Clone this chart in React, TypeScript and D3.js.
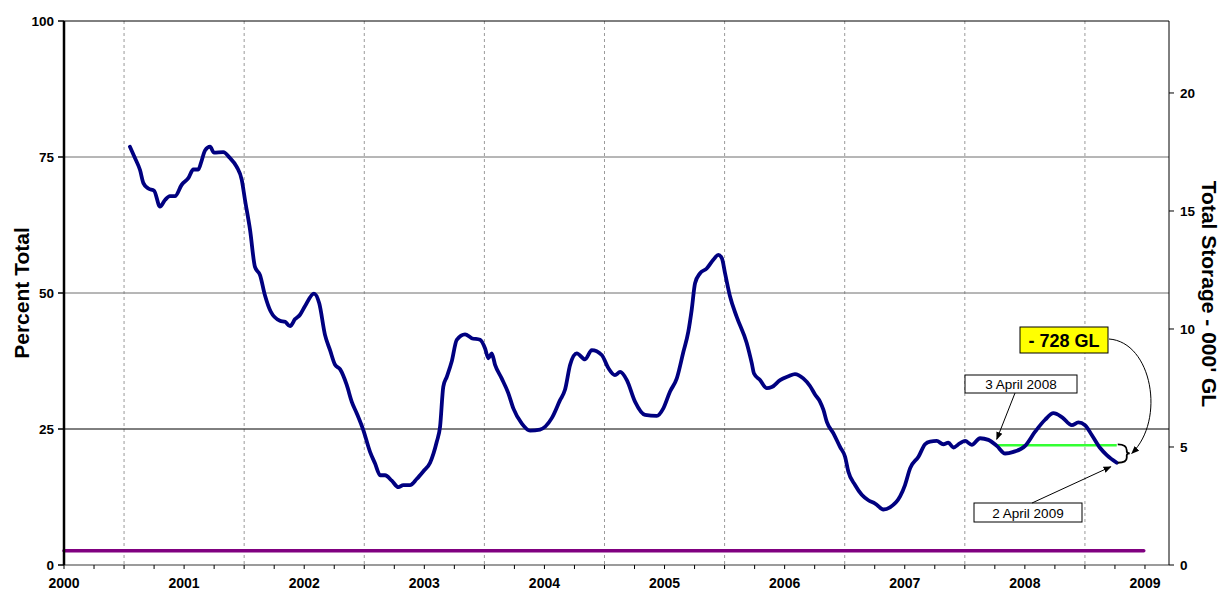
import React from "react";
import * as d3 from "d3";

// ---- data ----
const yearTicks = [2000, 2001, 2002, 2003, 2004, 2005, 2006, 2007, 2008, 2009];
const leftTicks = [0, 25, 50, 75, 100];
const rightTicks = [0, 5, 10, 15, 20];
const rightMax = 23.05; // '000 GL at 100 %

// storage time series: axis-year position and percent of total
const storageYear = [
  2000.549, 2000.591, 2000.633, 2000.661, 2000.702, 2000.75, 2000.799, 2000.841, 2000.882, 2000.924,
  2000.98, 2001.035, 2001.077, 2001.118, 2001.147, 2001.174, 2001.216, 2001.249, 2001.326, 2001.382,
  2001.438, 2001.48, 2001.507, 2001.549, 2001.59, 2001.632, 2001.673, 2001.721, 2001.798, 2001.841,
  2001.882, 2001.924, 2001.965, 2002.007, 2002.081, 2002.125, 2002.173, 2002.215, 2002.257, 2002.298,
  2002.354, 2002.396, 2002.437, 2002.492, 2002.548, 2002.589, 2002.632, 2002.673, 2002.729, 2002.784,
  2002.825, 2002.881, 2002.936, 2002.991, 2003.048, 2003.104, 2003.131, 2003.158, 2003.187, 2003.228,
  2003.27, 2003.339, 2003.394, 2003.464, 2003.506, 2003.533, 2003.561, 2003.589, 2003.644, 2003.699,
  2003.741, 2003.812, 2003.88, 2003.963, 2004.061, 2004.13, 2004.171, 2004.214, 2004.269, 2004.338,
  2004.394, 2004.477, 2004.532, 2004.587, 2004.63, 2004.686, 2004.755, 2004.838, 2004.935, 2004.99,
  2005.046, 2005.102, 2005.157, 2005.198, 2005.226, 2005.254, 2005.295, 2005.351, 2005.406, 2005.448,
  2005.477, 2005.504, 2005.546, 2005.601, 2005.684, 2005.726, 2005.745, 2005.795, 2005.851, 2005.893,
  2005.962, 2006.031, 2006.086, 2006.155, 2006.211, 2006.254, 2006.295, 2006.323, 2006.351, 2006.406,
  2006.461, 2006.503, 2006.53, 2006.586, 2006.642, 2006.697, 2006.753, 2006.822, 2006.877, 2006.961,
  2007.002, 2007.045, 2007.114, 2007.169, 2007.211, 2007.266, 2007.321, 2007.363, 2007.404, 2007.461,
  2007.502, 2007.558, 2007.627, 2007.696, 2007.766, 2007.836, 2007.905, 2008.002, 2008.085, 2008.168,
  2008.238, 2008.308, 2008.391, 2008.445, 2008.501, 2008.557, 2008.627, 2008.682, 2008.765,
];
const storagePct = [
  76.9, 74.8, 72.6, 70.2, 69.2, 68.8, 65.9, 67.1, 67.8, 67.8,
  69.9, 71.1, 72.7, 72.7, 74.4, 76.2, 76.9, 75.8, 75.9, 74.8,
  73.2, 70.8, 67.1, 61.6, 54.8, 53.3, 49.6, 46.6, 44.9, 44.7,
  43.9, 45.2, 46.0, 47.6, 49.9, 48.1, 42.3, 39.5, 36.8, 36.0,
  33.1, 30.0, 27.9, 24.8, 20.8, 18.7, 16.5, 16.5, 15.5, 14.3,
  14.7, 14.7, 15.8, 17.2, 18.8, 22.7, 25.4, 32.8, 34.6, 37.4,
  41.4, 42.4, 41.7, 41.4, 39.8, 38.0, 38.9, 36.8, 34.3, 31.6,
  28.8, 26.0, 24.7, 24.9, 27.0, 30.3, 32.2, 36.8, 38.9, 37.8,
  39.5, 38.6, 36.2, 34.9, 35.5, 34.0, 30.0, 27.6, 27.4, 28.8,
  31.9, 34.3, 39.2, 42.9, 46.9, 51.8, 53.6, 54.5, 56.1, 57.0,
  56.4, 53.6, 49.3, 45.6, 40.8, 37.1, 35.2, 34.0, 32.5, 32.7,
  34.0, 34.7, 35.1, 34.3, 32.9, 31.3, 30.0, 28.5, 26.3, 24.2,
  21.7, 19.9, 17.2, 14.7, 12.9, 11.9, 11.3, 10.2, 10.6, 12.6,
  14.7, 17.8, 19.9, 22.2, 22.7, 22.8, 22.2, 22.5, 21.6, 22.4,
  22.8, 22.1, 23.3, 23.0, 21.9, 20.5, 20.8, 21.9, 24.5, 26.7,
  27.9, 27.2, 25.7, 26.2, 25.7, 23.9, 21.5, 20.2, 18.8,
];

// reference level (3 April 2008) carried forward to 2 April 2009
const refLevelYears = [2007.766, 2008.765];
const refLevelPct = [22.0, 22.0];

// constant purple line
const minLevelYears = [2000, 2008.99];
const minLevelPct = [2.6, 2.6];

const FONT = "'Liberation Sans', Arial, Helvetica, sans-serif";

export default function App() {
  const W = 1222;
  const H = 592;
  const left = 64;
  const right = 1169;
  const top = 21;
  const bottom = 565;

  const x = d3.scaleLinear().domain([2000, 2009.2]).range([left, right]);
  const y = d3.scaleLinear().domain([0, 100]).range([bottom, top]);
  const yR = d3.scaleLinear().domain([0, rightMax]).range([bottom, top]);

  const series = storageYear.map((t, i) => [t, storagePct[i]] as [number, number]);
  const line = d3
    .line<[number, number]>()
    .x((d) => x(d[0]))
    .y((d) => y(d[1]))
    .curve(d3.curveMonotoneX);

  const quarterTicks = d3.range(0, 9 * 4 + 1).map((i) => 2000 + i / 4);
  const midYears = yearTicks.slice(0, -1).map((yy) => yy + 0.5);

  const lastX = x(storageYear[storageYear.length - 1]);
  const lastY = y(storagePct[storagePct.length - 1]);
  const greenStartX = x(refLevelYears[0]);
  const greenY = y(refLevelPct[0]);
  const greenEndX = x(refLevelYears[1]);

  return (
    <svg
      width={W}
      height={H}
      style={{ position: "absolute", left: 0, top: 0, background: "#fff" }}
      fontFamily={FONT}
    >
      <defs>
        <marker
          id="ah"
          viewBox="0 0 10 10"
          refX="9"
          refY="5"
          markerWidth="8"
          markerHeight="8"
          markerUnits="userSpaceOnUse"
          orient="auto"
        >
          <path d="M0,1 L10,5 L0,9 z" fill="#000" />
        </marker>
      </defs>
      <rect x={0} y={0} width={W} height={H} fill="#fff" />

      {/* dashed vertical gridlines at mid year */}
      {midYears.map((m) => (
        <line
          key={"v" + m}
          x1={x(m)}
          x2={x(m)}
          y1={top}
          y2={bottom}
          stroke="#9a9a9a"
          strokeWidth={1}
          strokeDasharray="3,3"
        />
      ))}

      {/* horizontal gridlines */}
      {leftTicks
        .filter((t) => t > 0 && t < 100)
        .map((t) => (
          <line
            key={"h" + t}
            x1={left}
            x2={right}
            y1={y(t)}
            y2={y(t)}
            stroke={t === 25 ? "#000" : "#6e6e6e"}
            strokeWidth={1}
          />
        ))}
      <line x1={left} x2={right} y1={top} y2={top} stroke="#000" strokeWidth={1} />

      {/* purple constant line */}
      <line
        x1={x(minLevelYears[0])}
        x2={x(minLevelYears[1])}
        y1={y(minLevelPct[0])}
        y2={y(minLevelPct[1])}
        stroke="#800080"
        strokeWidth={3.5}
        strokeLinecap="round"
      />

      {/* green reference level */}
      <line
        x1={greenStartX}
        x2={greenEndX}
        y1={greenY}
        y2={y(refLevelPct[1])}
        stroke="#33ff33"
        strokeWidth={2.5}
      />

      {/* storage line */}
      <path
        d={line(series) || ""}
        fill="none"
        stroke="#000080"
        strokeWidth={3.8}
        strokeLinejoin="round"
        strokeLinecap="round"
      />

      {/* bottom axis */}
      <line x1={left} x2={right} y1={bottom} y2={bottom} stroke="#7a7a7a" strokeWidth={1.5} />
      {quarterTicks.map((q) => (
        <line
          key={"q" + q}
          x1={x(q)}
          x2={x(q)}
          y1={bottom}
          y2={bottom + 4}
          stroke="#000"
          strokeWidth={1}
        />
      ))}
      {yearTicks.map((yy) => (
        <text
          key={"yl" + yy}
          x={x(yy)}
          y={587.5}
          textAnchor="middle"
          fontSize={14}
          fontWeight="bold"
          fill="#000"
        >
          {yy}
        </text>
      ))}

      {/* left axis */}
      <line x1={left} x2={left} y1={top} y2={bottom} stroke="#000" strokeWidth={2.5} />
      {leftTicks.map((t) => (
        <g key={"lt" + t}>
          <line x1={left - 6} x2={left} y1={y(t)} y2={y(t)} stroke="#000" strokeWidth={1.5} />
          <text
            x={54}
            y={y(t)}
            dy="0.36em"
            textAnchor="end"
            fontSize={13.5}
            fontWeight="bold"
            fill="#000"
          >
            {t}
          </text>
        </g>
      ))}
      <text
        transform={`translate(22,293) rotate(-90)`}
        textAnchor="middle"
        dy="0.35em"
        fontSize={21}
        fontWeight="bold"
        fill="#000"
      >
        Percent Total
      </text>

      {/* right axis */}
      <line x1={right} x2={right} y1={top} y2={bottom} stroke="#000" strokeWidth={1} />
      {rightTicks.map((t) => (
        <g key={"rt" + t}>
          <line x1={right} x2={right + 5} y1={yR(t)} y2={yR(t)} stroke="#000" strokeWidth={1} />
          <text
            x={1180}
            y={yR(t)}
            dy="0.36em"
            textAnchor="start"
            fontSize={13.5}
            fontWeight="bold"
            fill="#000"
          >
            {t}
          </text>
        </g>
      ))}
      <text
        transform={`translate(1209,294) rotate(90)`}
        textAnchor="middle"
        dy="0.35em"
        fontSize={21}
        fontWeight="bold"
        fill="#000"
      >
        Total Storage - 000' GL
      </text>

      {/* brace between reference level and latest value */}
      <path
        d={`M${greenEndX + 1},${greenY - 1} Q${greenEndX + 10},${greenY - 1} ${greenEndX + 10},${greenY + 5}
            L${greenEndX + 10},${greenY + 6} Q${greenEndX + 10},${greenY + 8} ${greenEndX + 13},${greenY + 8}
            Q${greenEndX + 10},${greenY + 8} ${greenEndX + 10},${greenY + 10}
            L${greenEndX + 10},${lastY - 5} Q${greenEndX + 10},${lastY} ${lastX + 1},${lastY}`}
        fill="none"
        stroke="#000"
        strokeWidth={1.8}
      />

      {/* - 728 GL callout */}
      <rect x={1020} y={327} width={88} height={26} fill="#ffff00" stroke="#000" strokeWidth={1} />
      <text x={1064} y={346.5} textAnchor="middle" fontSize={18} fontWeight="bold" fill="#000">
        - 728 GL
      </text>
      <path
        d={`M1109,339 C1152,342 1166,420 ${greenEndX + 15},${greenY + 8}`}
        fill="none"
        stroke="#000"
        strokeWidth={1}
        markerEnd="url(#ah)"
      />

      {/* 3 April 2008 */}
      <rect x={965} y={375} width={112} height={18} fill="#fff" stroke="#000" strokeWidth={1} />
      <text x={1021} y={388.5} textAnchor="middle" fontSize={13.5} fill="#000">
        3 April 2008
      </text>
      <line
        x1={1015}
        y1={393}
        x2={greenStartX}
        y2={greenY - 6}
        stroke="#000"
        strokeWidth={1}
        markerEnd="url(#ah)"
      />

      {/* 2 April 2009 */}
      <rect x={974} y={503} width={108} height={19} fill="#fff" stroke="#000" strokeWidth={1} />
      <text x={1028} y={517.5} textAnchor="middle" fontSize={13.5} fill="#000">
        2 April 2009
      </text>
      <line
        x1={1032}
        y1={503}
        x2={lastX - 6}
        y2={lastY + 4}
        stroke="#000"
        strokeWidth={1}
        markerEnd="url(#ah)"
      />
    </svg>
  );
}
